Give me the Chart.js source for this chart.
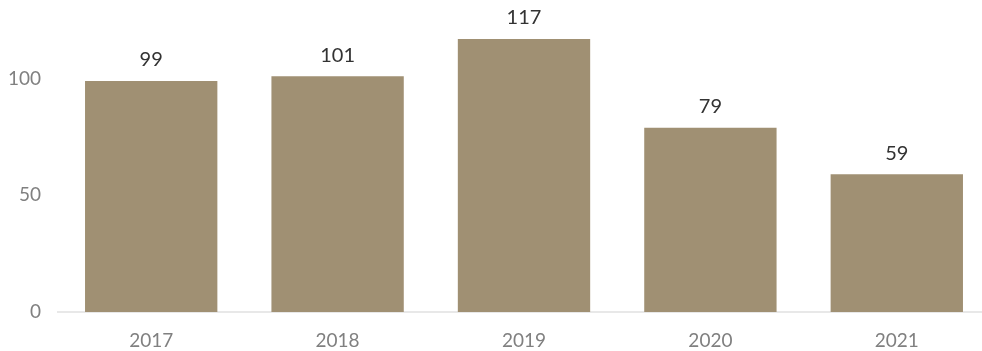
<!DOCTYPE html>
<html>
<head>
<meta charset="utf-8">
<script src="https://cdn.jsdelivr.net/npm/chart.js@4.4.1/dist/chart.umd.min.js"></script>
<style>
    html, body { margin: 0; padding: 0; background: #fff; overflow: hidden; }
    .wrap { width: 990px; height: 351px; position: relative; }
</style>
</head>
<body>
<div class="wrap"><canvas id="bars"></canvas></div>
<script>
    // 年ごとの件数
    var years = ['2017', '2018', '2019', '2020', '2021'];
    var counts = [99, 101, 117, 79, 59];
    var yTicks = [0, 50, 100];

    // 棒の上に数値を描く
    var valueLabels = {
        id: 'valueLabels',
        afterDatasetsDraw: function(chart) {
            var ctx = chart.ctx;
            var meta = chart.getDatasetMeta(0);
            ctx.save();
            ctx.font = '20px Lato';
            ctx.fillStyle = '#333333';
            ctx.textAlign = 'center';
            ctx.textBaseline = 'middle';
            meta.data.forEach(function(bar, i) {
                ctx.fillText(String(counts[i]), bar.x, bar.y - 21);
            });
            ctx.restore();
        }
    };

    var ctx = document.getElementById('bars').getContext('2d');
    var chart = new Chart(ctx, {
        type: 'bar',
        data: {
            labels: years,
            datasets: [{
                data: counts,
                backgroundColor: '#a09073',
                categoryPercentage: 0.71,
                barPercentage: 1.0
            }]
        },
        options: {
            responsive: true,
            maintainAspectRatio: false,
            animation: false,
            layout: { padding: { top: 32, left: 0, right: 0, bottom: 0 } },
            plugins: { legend: { display: false }, tooltip: { enabled: false } },
            scales: {
                x: {
                    grid: { display: false },
                    border: { display: true, color: '#e8e8e8', width: 2 },
                    ticks: { color: '#808080', font: { family: 'Lato', size: 19 }, padding: 9 },
                    afterFit: function(scale) { scale.height = 39; }
                },
                y: {
                    min: 0,
                    max: 120,
                    grid: { display: false },
                    border: { display: false },
                    ticks: { color: '#808080', font: { family: 'Lato', size: 19 }, padding: 9 },
                    afterBuildTicks: function(scale) {
                        scale.ticks = yTicks.map(function(v) { return { value: v }; });
                    },
                    afterFit: function(scale) { scale.width = 58; }
                }
            }
        },
        plugins: [valueLabels]
    });
</script>
</body>
</html>
